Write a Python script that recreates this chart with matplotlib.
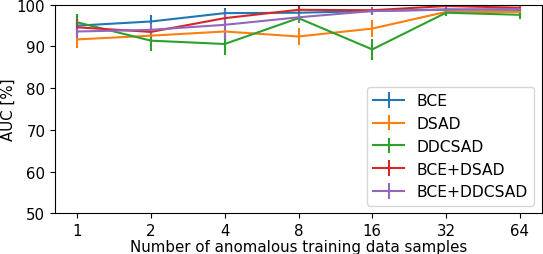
import matplotlib
matplotlib.use("Agg")
import matplotlib.pyplot as plt
import numpy as np

samples = ["1", "2", "4", "8", "16", "32", "64"]
methods = ["BCE", "DSAD", "DDCSAD", "BCE+DSAD", "BCE+DDCSAD"]
bce = [95.0, 96.0, 98.0, 98.1, 98.5, 98.9, 98.8]
bce_err = [1.2, 1.6, 1.3, 1.0, 0.8, 0.6, 0.6]
dsad = [91.7, 92.6, 93.6, 92.4, 94.3, 98.3, 98.3]
dsad_err = [2.1, 1.2, 1.0, 2.1, 2.1, 0.7, 0.7]
ddcsad = [95.8, 91.4, 90.6, 96.8, 89.3, 98.1, 97.6]
ddcsad_err = [2.0, 2.4, 2.7, 1.2, 2.5, 0.8, 1.0]
bce_dsad = [94.6, 93.5, 96.8, 98.8, 98.7, 99.7, 99.3]
bce_dsad_err = [2.0, 1.2, 1.5, 1.3, 0.8, 0.6, 0.6]
bce_ddcsad = [93.6, 94.0, 95.2, 97.0, 98.5, 98.8, 99.0]
bce_ddcsad_err = [1.5, 1.5, 3.5, 1.2, 1.0, 0.7, 0.6]

series = [bce, dsad, ddcsad, bce_dsad, bce_ddcsad]
errs = [bce_err, dsad_err, ddcsad_err, bce_dsad_err, bce_ddcsad_err]

fs = 10.8
fig = plt.figure(figsize=(5.43, 2.55), dpi=100)
ax = fig.add_axes([55/543, 1 - 214.3/255, (542 - 55)/543, (214.3 - 5.8)/255])
x = np.arange(len(samples))
for name, vals, e in zip(methods, series, errs):
    ax.errorbar(x, vals, yerr=e, label=name, lw=1.5)
ax.set_xticks(x)
ax.set_xticklabels(samples)
ax.set_xlim(-0.3, len(samples) - 0.7)
ax.set_ylim(50, 100)
ax.set_yticks([50, 60, 70, 80, 90, 100])
ax.tick_params(labelsize=fs)
ax.set_xlabel("Number of anomalous training data samples", fontsize=fs, labelpad=1)
ax.set_ylabel("AUC [%]", fontsize=fs, labelpad=1)
ax.legend(loc="lower right", fontsize=11.2, borderaxespad=0.5)
fig.savefig("out.png", dpi=100)
